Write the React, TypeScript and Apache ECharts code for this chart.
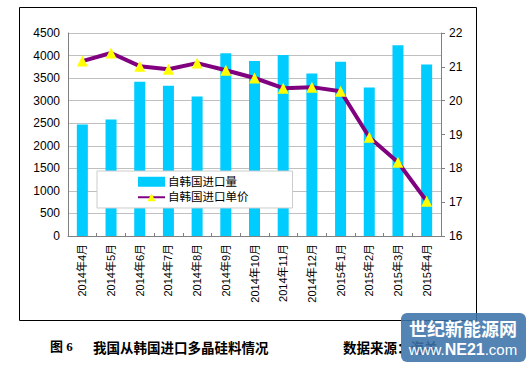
import React, { useEffect, useRef } from "react";
import * as echarts from "echarts";

const categories = [
  "2014年4月", "2014年5月", "2014年6月", "2014年7月", "2014年8月", "2014年9月",
  "2014年10月", "2014年11月", "2014年12月", "2015年1月", "2015年2月", "2015年3月", "2015年4月",
];
const volume = [2470, 2580, 3420, 3330, 3090, 4050, 3880, 4010, 3600, 3860, 3290, 4230, 3800];
const price = [21.17, 21.41, 21.02, 20.93, 21.11, 20.9, 20.67, 20.37, 20.4, 20.28, 18.92, 18.18, 17.03];
const volumeName = "自韩国进口量";
const priceName = "自韩国进口单价";
const captionLeft = "图 6";
const captionTitle = "我国从韩国进口多晶硅料情况";
const captionSource = "数据来源：海关";

const FONT = "'Liberation Sans', 'Noto Sans CJK SC', sans-serif";

export default function App() {
  const ref = useRef<HTMLDivElement>(null);
  useEffect(() => {
    const chart = echarts.init(ref.current!, null, { renderer: "svg" });
    chart.setOption({
      animation: false,
      backgroundColor: "#ffffff",
      textStyle: { fontFamily: FONT },
      grid: { left: 68, right: 91, top: 33, bottom: 132 },
      legend: {
        orient: "vertical",
        left: 97,
        top: 171,
        padding: [5, 44, 5, 40],
        itemGap: 4,
        itemWidth: 27,
        itemHeight: 10,
        backgroundColor: "#ffffff",
        borderColor: "#cccccc",
        borderWidth: 1,
        textStyle: { fontSize: 11.5, color: "#000", fontFamily: FONT, padding: [0, 0, 0, -2] },
        data: [
          { name: volumeName, icon: "rect", itemStyle: { color: "#00CCFF" } },
          { name: priceName },
        ],
      },
      xAxis: {
        type: "category",
        data: categories,
        axisLine: { lineStyle: { color: "#808080" } },
        axisTick: { show: true, inside: true, length: 3, lineStyle: { color: "#808080" } },
        axisLabel: { rotate: 90, fontSize: 11, color: "#000", margin: 8, interval: 0, fontFamily: FONT },
      },
      yAxis: [
        {
          type: "value",
          min: 0,
          max: 4500,
          interval: 500,
          axisLine: { show: true, lineStyle: { color: "#808080" } },
          axisTick: { show: false },
          axisLabel: {
            fontSize: 12,
            color: "#000",
            margin: 8,
            fontFamily: FONT,
            formatter: (v: number) => String(v),
          },
          splitLine: { lineStyle: { color: "#c0c0c0" } },
        },
        {
          type: "value",
          min: 16,
          max: 22,
          interval: 1,
          position: "right",
          axisLine: { show: true, lineStyle: { color: "#808080" } },
          axisTick: { show: true, length: 4, lineStyle: { color: "#808080" } },
          axisLabel: { fontSize: 12, color: "#000", margin: 8, fontFamily: FONT, formatter: (v: number) => String(v) },
          splitLine: { show: false },
        },
      ],
      series: [
        {
          name: volumeName,
          type: "bar",
          data: volume,
          barWidth: 11,
          itemStyle: { color: "#00CCFF" },
        },
        {
          name: priceName,
          type: "line",
          yAxisIndex: 1,
          data: price,
          symbol: "triangle",
          symbolSize: 11,
          lineStyle: { color: "#800080", width: 4 },
          itemStyle: { color: "#FFFF00", borderColor: "#FFFF00", borderWidth: 0 },
          z: 5,
        },
      ],
      graphic: [
        {
          type: "rect",
          shape: { x: 19.5, y: 7.5, width: 457, height: 313 },
          style: { fill: "none", stroke: "#000", lineWidth: 1 },
          silent: true,
        },
        {
          type: "text",
          x: 50,
          y: 340,
          style: {
            text: captionLeft,
            fontSize: 13,
            fontWeight: "bold",
            fill: "#000",
            fontFamily: "'Liberation Serif', 'Noto Sans CJK SC', serif",
          },
        },
        {
          type: "text",
          x: 93,
          y: 340,
          style: {
            text: captionTitle,
            fontSize: 13.5,
            fontWeight: "bold",
            fill: "#000",
            fontFamily: "'Noto Sans CJK SC', sans-serif",
          },
        },
        {
          type: "text",
          x: 343,
          y: 340,
          style: {
            text: captionSource,
            fontSize: 13.5,
            fontWeight: "bold",
            fill: "#000",
            fontFamily: "'Noto Sans CJK SC', sans-serif",
          },
        },
        {
          type: "rect",
          shape: { x: 401, y: 313, width: 125, height: 49, r: 6 },
          style: { fill: "rgba(60,115,170,0.88)" },
          z: 10,
        },
        {
          type: "text",
          x: 463,
          y: 328,
          z: 11,
          style: {
            text: "世纪新能源网",
            fontSize: 18,
            fontWeight: "bold",
            fill: "#ffffff",
            align: "center",
            verticalAlign: "middle",
            fontFamily: "'Noto Sans CJK SC', sans-serif",
          },
        },
        {
          type: "text",
          x: 463,
          y: 349,
          z: 11,
          style: {
            rich: {
              a: { fontSize: 15, fill: "#ffffff", fontFamily: "'Liberation Sans', sans-serif" },
              b: { fontSize: 16, fill: "#ffffff", fontWeight: "bold", fontFamily: "'Liberation Sans', sans-serif" },
            },
            text: "{a|www.}{b|NE21}{a|.com}",
            align: "center",
            verticalAlign: "middle",
          },
        },
      ],
    });
    return () => chart.dispose();
  }, []);
  return <div ref={ref} style={{ width: 532, height: 368, position: "absolute", left: 0, top: 0 }} />;
}
